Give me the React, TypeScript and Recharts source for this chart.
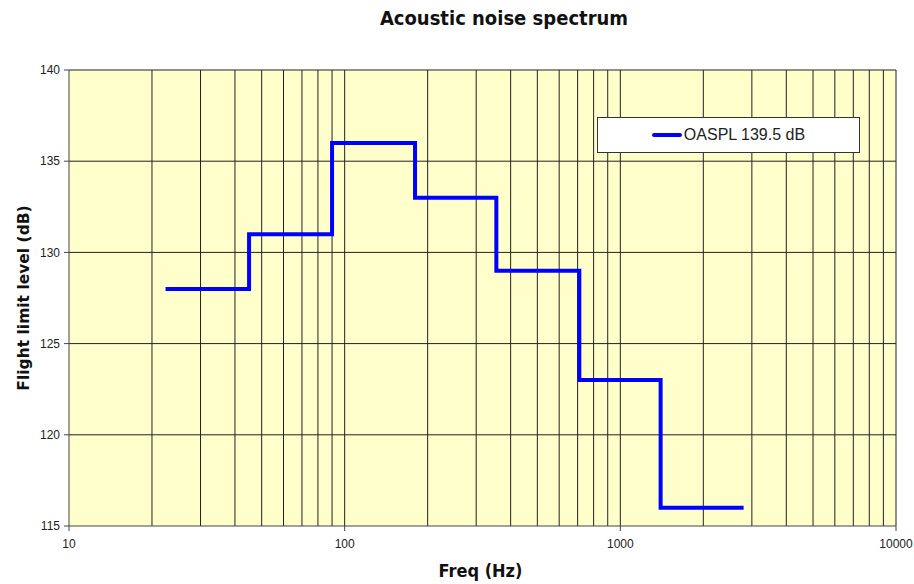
import React from "react";
import { LineChart, Line, XAxis, YAxis, ReferenceLine, ReferenceArea } from "recharts";

const freqs = [22.4, 45, 90, 180, 355, 710, 1400, 2800];
const levels = [128, 131, 136, 133, 129, 123, 116, 116];
const xTicks = [10, 100, 1000, 10000];
const yTicks = [115, 120, 125, 130, 135, 140];
const xGrid = [20, 30, 40, 50, 60, 70, 80, 90, 100, 200, 300, 400, 500, 600, 700, 800, 900, 1000, 2000, 3000, 4000, 5000, 6000, 7000, 8000, 9000, 10000];
const yGrid = [120, 125, 130, 135, 140];
const seriesName = "OASPL 139.5 dB";

const data = freqs.map((f, i) => ({ f, v: levels[i] }));

export default function App() {
  return (
    <div style={{ position: "absolute", left: 0, top: 0, width: 914, height: 584, background: "#fff" }}>
      <div
        style={{
          position: "absolute",
          left: 374,
          width: 260,
          top: 6,
          textAlign: "center",
          whiteSpace: "nowrap",
          fontFamily: "DejaVu Sans Condensed, DejaVu Sans, sans-serif",
          fontWeight: "bold",
          fontSize: 20,
          color: "#111",
        }}
      >
        Acoustic noise spectrum
      </div>
      <LineChart width={914} height={584} data={data} margin={{ top: 70, right: 18, bottom: 28, left: 9 }}>
        <XAxis
          dataKey="f"
          type="number"
          scale="log"
          domain={[10, 10000]}
          ticks={xTicks}
          allowDataOverflow
          height={30}
          stroke="#444"
          tickSize={5}
          tick={{ fontFamily: "Liberation Sans, Arial, sans-serif", fontSize: 12, fill: "#222" }}
          tickMargin={8}
          label={{
            value: "Freq (Hz)",
            position: "insideBottom",
            offset: -21,
            dx: -2,
            style: { fontFamily: "DejaVu Sans Condensed, DejaVu Sans, sans-serif", fontWeight: "bold", fontSize: 18, fill: "#111" },
          }}
        />
        <YAxis
          type="number"
          domain={[115, 140]}
          ticks={yTicks}
          allowDataOverflow
          stroke="#444"
          tickSize={5}
          width={60}
          tick={{ fontFamily: "Liberation Sans, Arial, sans-serif", fontSize: 12, fill: "#222" }}
          tickMargin={4}
          label={{
            value: "Flight limit level (dB)",
            angle: -90,
            position: "insideLeft",
            offset: 0,
            dx: 14,
            dy: 0,
            style: { fontFamily: "DejaVu Sans, sans-serif", fontWeight: "bold", fontSize: 15.5, fill: "#111", textAnchor: "middle" },
          }}
        />
        <ReferenceArea x1={10} x2={10000} y1={115} y2={140} fill="#FFFFCC" fillOpacity={1} stroke="none" ifOverflow="hidden" />
        {xGrid.map((g) => (
          <ReferenceLine key={"x" + g} x={g} stroke="#222" strokeWidth={1} />
        ))}
        {yGrid.map((g) => (
          <ReferenceLine key={"y" + g} y={g} stroke="#222" strokeWidth={1} />
        ))}
        <Line
          type="stepAfter"
          dataKey="v"
          name={seriesName}
          stroke="#0000FF"
          strokeWidth={4}
          strokeLinejoin="miter"
          dot={false}
          isAnimationActive={false}
        />
      </LineChart>
      <div
        style={{
          position: "absolute",
          left: 597,
          top: 117,
          width: 263,
          height: 36,
          background: "#fff",
          border: "1px solid #333",
          display: "flex",
          alignItems: "center",
          justifyContent: "center",
          fontFamily: "Liberation Sans, Arial, sans-serif",
          fontSize: 16,
          color: "#222",
          boxSizing: "border-box",
        }}
      >
        <span style={{ display: "inline-block", width: 30, height: 4, background: "#0000FF", borderRadius: 2, marginRight: 2 }} />
        <span>{seriesName}</span>
      </div>
    </div>
  );
}
